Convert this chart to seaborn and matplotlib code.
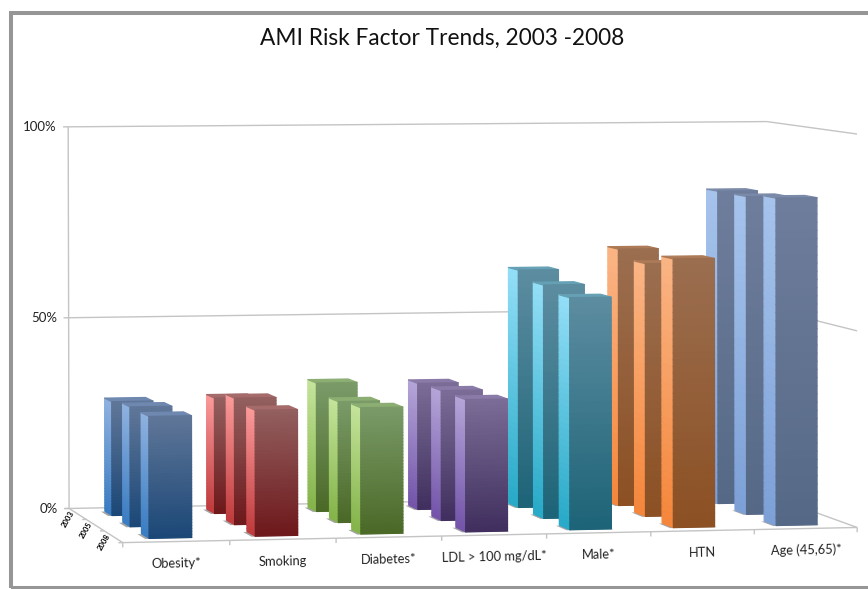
#!/usr/bin/env python3
"""
AMI risk factor trends as an Excel style 3D bar chart
"""

import numpy as np
import matplotlib
matplotlib.use("Agg")
import matplotlib.pyplot as plt
import seaborn as sns
from matplotlib.patches import Rectangle
from mpl_toolkits.mplot3d import proj3d
from mpl_toolkits.mplot3d.art3d import Line3DCollection

# Data
categories = ["Obesity*", "Smoking", "Diabetes*", "LDL > 100 mg/dL*", "Male*", "HTN", "Age (45,65)*"]
years = ["2003", "2005", "2008"]
values_2003 = [0.295, 0.30, 0.335, 0.33, 0.623, 0.675, 0.825]
values_2005 = [0.305, 0.323, 0.31, 0.334, 0.602, 0.654, 0.825]
values_2008 = [0.305, 0.316, 0.318, 0.334, 0.588, 0.683, 0.835]
percent_ticks = [0, 0.5, 1]
percent_labels = ["0%", "50%", "100%"]

# (front top, front bottom, side top, side bottom, roof)
bar_colors = [
    ("#5f7698", "#1c4877", "#8fb2e0", "#3b7dc2", "#6e88b0"),
    ("#935f5f", "#6e191c", "#fb9a9a", "#c03c3e", "#a56a6a"),
    ("#7a9a68", "#4b6a28", "#c4e49a", "#84b44a", "#8cae72"),
    ("#7a6c96", "#41305f", "#b4a5d8", "#7455aa", "#8a7aa8"),
    ("#5c8ca0", "#1e6478", "#92def6", "#28aac8", "#66a0b4"),
    ("#9b6e50", "#8c5023", "#fab484", "#f5873c", "#ad7a58"),
    ("#6e7d9b", "#556987", "#a5c3eb", "#7da0d7", "#7a8aa8"),
]

# Where the chart box lands in the image, used to fit the camera
W, H = 868, 589
box_world = np.array([[0, 3, 0], [0, 3, 1], [7, 3, 0], [7, 3, 1], [0, 0, 0],
                      [7, 0, 0], [7, 0, 1], [7, 3, 0.5], [7, 0, 0.5]], dtype=float)
box_pixels = np.array([[69, 507], [68, 127], [767, 496], [767, 122], [123, 544],
                       [857, 527], [857, 134], [767, 308], [857, 330]], dtype=float)


def fit_camera(world, pixels):
    rows = []
    for (x, y, z), (u, v) in zip(world, pixels):
        v = H - v
        rows.append([x, y, z, 1, 0, 0, 0, 0, -u * x, -u * y, -u * z, -u])
        rows.append([0, 0, 0, 0, x, y, z, 1, -v * x, -v * y, -v * z, -v])
    p = np.linalg.svd(np.array(rows))[2][-1].reshape(3, 4)
    p = p / p[2, 3]
    return np.vstack([p[0], p[1], [0, 1, 0, 0], p[2]])


def draw_bar(ax, x0, y0, width, depth, height, colors, order):
    n = 40
    clear = (0, 0, 0, 0)
    front = sns.blend_palette([colors[0], colors[1]], n)[::-1]
    side = sns.blend_palette([colors[2], colors[3]], n)[::-1]
    roof = matplotlib.colors.to_rgba(colors[4])
    faces = []
    for i in range(n):
        top_face = roof if i == n - 1 else clear
        faces += [clear, top_face, tuple(front[i]) + (1,), clear, tuple(side[i]) + (1,), clear]
    dz = height / n
    zs = np.arange(n) * dz
    col = ax.bar3d(np.full(n, x0), np.full(n, y0), zs, width, depth, dz, color=faces,
                   edgecolor=faces, linewidth=0.9, shade=False)
    col.set_zorder(order)


def put_text(ax, x, y, z, label, **kwargs):
    # plain 2D text at the projected spot of a 3D point
    u, v, _ = proj3d.proj_transform(x, y, z, camera)
    ax.text2D(u, v, label, transform=ax.transData, ha=kwargs.pop("ha", "center"), va="center",
              zorder=100, **kwargs)


sns.set_theme(style="white")
plt.rcParams["font.family"] = ["Lato", "DejaVu Sans"]

fig = plt.figure(figsize=(W / 100, H / 100), dpi=100)
ax = fig.add_axes([0, 0, 1, 1], projection="3d")
ax.set_axis_off()
ax.set_xticks([])
ax.set_yticks([])
ax.set_zticks([])
ax.computed_zorder = False
camera = fit_camera(box_world, box_pixels)
ax.get_proj = lambda: camera
ax.apply_aspect = lambda position=None: None
ax.viewLim.intervalx = (0, W)
ax.viewLim.intervaly = (0, H)

# Walls and floor
segments = []
for z in percent_ticks:
    segments.append([(-0.05, 3, z), (7, 3, z)])
    segments.append([(7, 3, z), (7, 0, z)])
segments.append([(0, 3, 0), (0, 3, 1)])
segments.append([(0, 0, 0), (7, 0, 0)])
segments.append([(0, 0, 0), (0, 3, 0)])
for i in range(len(categories) + 1):
    segments.append([(i, 0, 0), (i, 0, -0.012)])
for i in range(len(years) + 1):
    segments.append([(0, i, 0), (-0.04, i, 0)])
walls = Line3DCollection(segments, colors="#c4c4c4", linewidths=1, zorder=1)
ax.add_collection3d(walls)

# Bars, back row first
bar_w = 0.4
for row, vals in enumerate([values_2008, values_2005, values_2003]):
    for i, val in enumerate(vals):
        order = 10 + (2 - row) * 10 + i
        shadow = ax.bar3d(i + 0.3 - 0.05, row + 0.3 - 0.07, 0, bar_w + 0.05, bar_w, 0.001,
                          color=[(0, 0, 0, 0), (0.4, 0.4, 0.4, 0.6)] + [(0, 0, 0, 0)] * 4,
                          edgecolor=(0, 0, 0, 0), shade=False)
        shadow.set_zorder(order - 0.5)
        draw_bar(ax, i + 0.3, row + 0.3, bar_w, bar_w, val, bar_colors[i], order)

# Text
text_color = "#222222"
for z, label in zip(percent_ticks, percent_labels):
    put_text(ax, -0.11, 3, z, label, ha="right", fontsize=9.5, color=text_color)
for i, label in enumerate(categories):
    put_text(ax, i + 0.5, 0, -0.055, label, rotation=1.2, fontsize=9.3, color=text_color)
for row, label in enumerate(years[::-1]):
    put_text(ax, -0.09, row + 0.5, -0.012, label, rotation=60, fontsize=5.5,
             fontweight="bold", color="black")

fig.text(442 / W, 1 - 38 / H, "AMI Risk Factor Trends, 2003 -2008", ha="center", va="center",
         fontsize=16.3, color="#111111")

# Grey frame round the slide
fig.add_artist(Rectangle((11 / W, 1.5 / H), 900 / W, 575 / H, transform=fig.transFigure,
                         fill=False, edgecolor="#969696", lw=2.9))
ax.patch.set_alpha(0)

fig.savefig("out.png", dpi=100)
plt.close(fig)
